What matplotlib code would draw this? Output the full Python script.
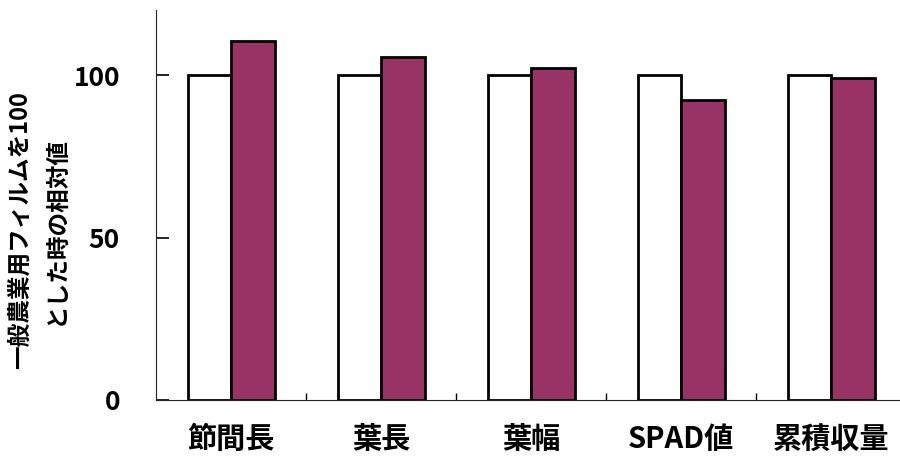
import numpy as np
import matplotlib
matplotlib.use('Agg')
import matplotlib.pyplot as plt

plt.rcParams['font.family'] = ['Noto Sans CJK JP', 'DejaVu Sans']

# relative values (general-purpose film = 100)
items = ['節間長', '葉長', '葉幅', 'SPAD値', '累積収量']
general_film = [100, 100, 100, 100, 100]
test_film = [110.5, 105.5, 102.3, 92.2, 99.2]
yticks = [0, 50, 100]

fig = plt.figure(figsize=(9, 4.58), dpi=100)
ax = fig.add_axes([156 / 900, 58 / 458, 750 / 900, 390 / 458])

x = np.arange(len(items))
w = 0.29
ax.bar(x - w / 2, general_film, w, color='white', edgecolor='black', linewidth=2, zorder=3)
ax.bar(x + w / 2, test_film, w, color='#993366', edgecolor='black', linewidth=2, zorder=3)

ax.set_xlim(-0.5, len(items) - 0.5)
ax.set_ylim(0, 120)

ax.spines['top'].set_visible(False)
ax.spines['right'].set_visible(False)
ax.spines['left'].set_color('#222222')
ax.spines['bottom'].set_color('#222222')

ax.set_yticks(yticks)
ax.set_yticklabels([str(v) for v in yticks], fontsize=19, fontweight='bold')
ax.tick_params(axis='y', direction='in', length=9, width=1.2, pad=26)

# category labels centred on groups, tick marks on group boundaries
ax.set_xticks(x)
ax.set_xticklabels(items, fontsize=21, fontweight='bold')
ax.tick_params(axis='x', which='major', length=0, pad=17)
ax.set_xticks(np.arange(len(items) - 1) + 0.5, minor=True)
ax.tick_params(axis='x', which='minor', direction='in', length=5, width=1)

fig.text(0.042, 0.497, '一般農業用フィルムを100\nとした時の相対値', rotation=90,
         ha='center', va='center', fontsize=17, fontweight='bold', linespacing=1.65,
         multialignment='center')

plt.savefig('out.png', dpi=100)
plt.close()
